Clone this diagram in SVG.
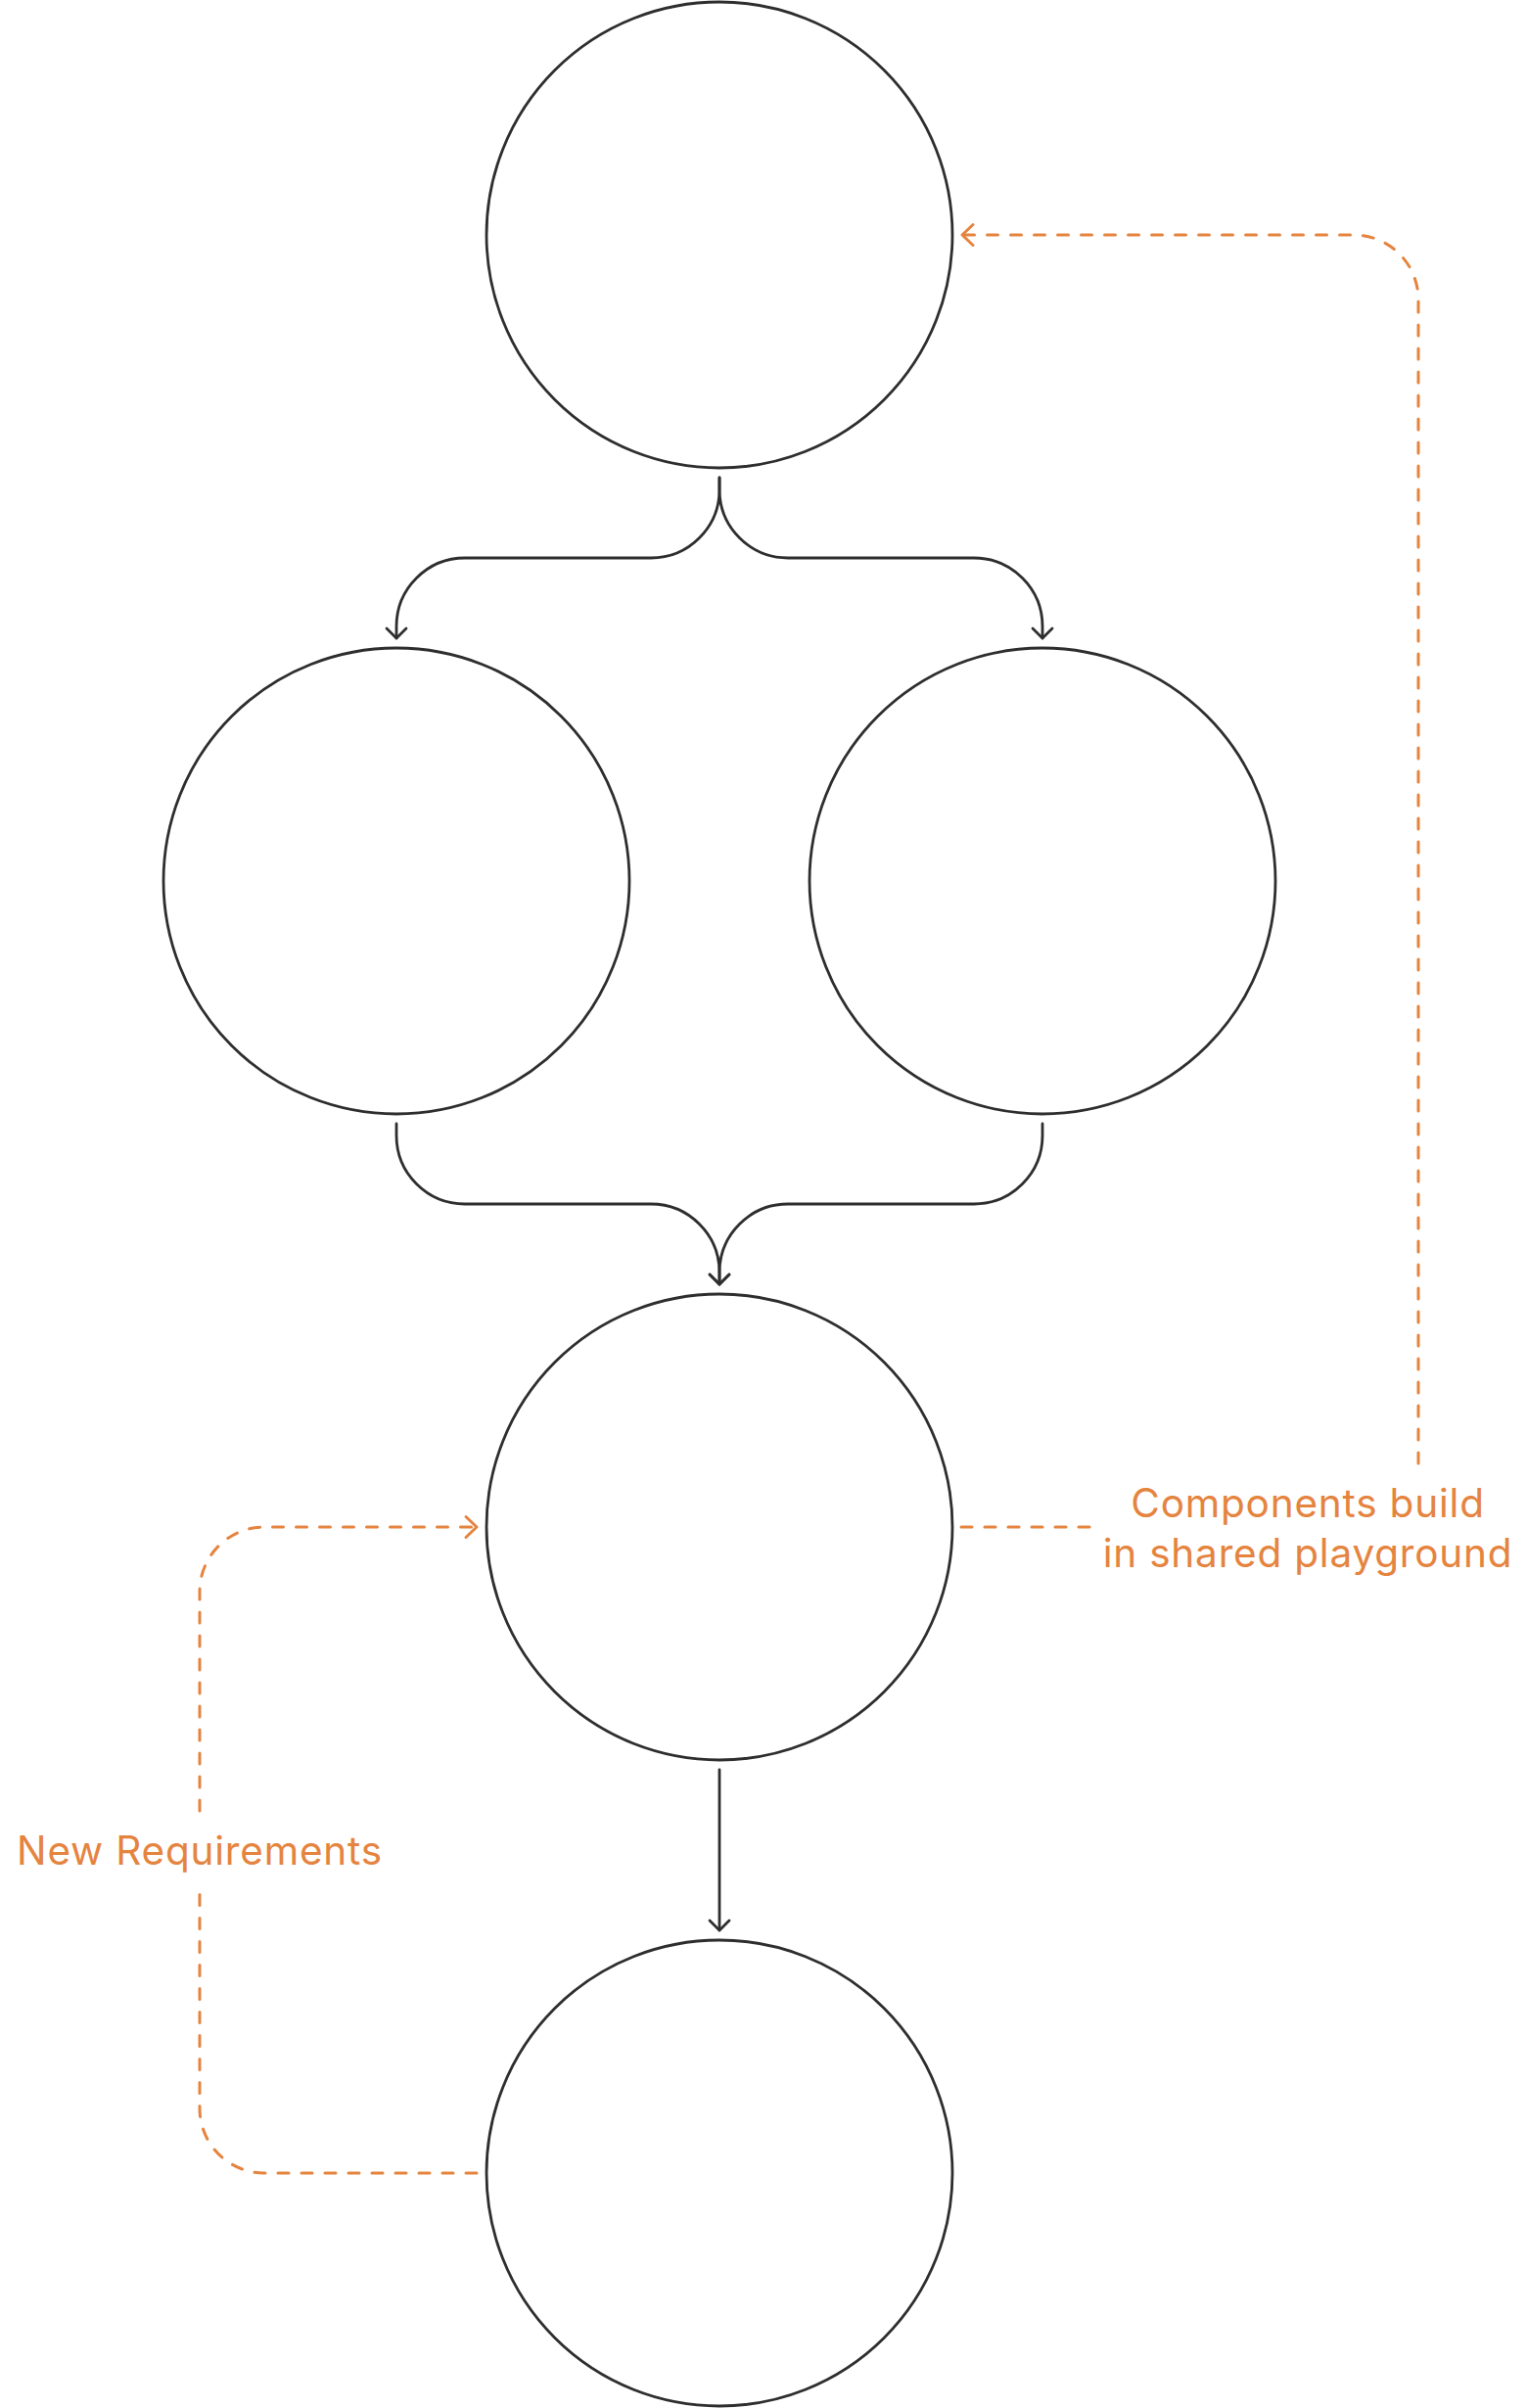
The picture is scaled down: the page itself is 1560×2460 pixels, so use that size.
<svg xmlns="http://www.w3.org/2000/svg" width="1560" height="2460" viewBox="0 0 1560 2460">
  <style>
    .node { fill: #ffffff; stroke: #2e2e2e; stroke-width: 2.8; }
    .flow { fill: none; stroke: #2e2e2e; stroke-width: 2.8; stroke-linecap: round; stroke-linejoin: round; }
    .loop { fill: none; stroke: #E5843F; stroke-width: 3; stroke-linecap: round; stroke-dasharray: 11 13; }
    .lbl { font-family: Inter, "Liberation Sans", sans-serif; font-size: 40.5px; letter-spacing: 0.8px; fill: #E5843F; text-anchor: middle; }
  </style>
  <defs>
    <marker id="ah" viewBox="-12 -12 24 24" markerWidth="24" markerHeight="24" markerUnits="userSpaceOnUse" refX="0" refY="0" orient="auto">
      <path d="M-10,-10 L0,0 L-10,10" fill="none" stroke="#2e2e2e" stroke-width="2.8" stroke-linecap="round" stroke-linejoin="round"/>
    </marker>
    <marker id="ao" viewBox="-14 -14 28 28" markerWidth="28" markerHeight="28" markerUnits="userSpaceOnUse" refX="0" refY="0" orient="auto">
      <path d="M-11,-10.5 L0,0 L-11,10.5" fill="none" stroke="#E5843F" stroke-width="3" stroke-linecap="round" stroke-linejoin="round" stroke-dasharray="none"/>
    </marker>
  </defs>
  <rect width="1560" height="2460" fill="#ffffff"/>
  <g id="node-top"><circle class="node" cx="735" cy="240" r="238"/></g>
  <g id="node-left"><circle class="node" cx="405" cy="900" r="238"/></g>
  <g id="node-right"><circle class="node" cx="1065" cy="900" r="238"/></g>
  <g id="node-middle"><circle class="node" cx="735" cy="1560" r="238"/></g>
  <g id="node-bottom"><circle class="node" cx="735" cy="2220" r="238"/></g>
  <g id="connectors">
    <path class="flow" d="M735 488 V500 A70 70 0 0 1 665 570 H475 A70 70 0 0 0 405 640 V652" marker-end="url(#ah)"/>
    <path class="flow" d="M735 488 V500 A70 70 0 0 0 805 570 H995 A70 70 0 0 1 1065 640 V652" marker-end="url(#ah)"/>
    <path class="flow" d="M405 1148 V1160 A70 70 0 0 0 475 1230 H665 A70 70 0 0 1 735 1300 V1312" marker-end="url(#ah)"/>
    <path class="flow" d="M1065 1148 V1160 A70 70 0 0 1 995 1230 H805 A70 70 0 0 0 735 1300 V1312" marker-end="url(#ah)"/>
    <path class="flow" d="M735 1808 V1972" marker-end="url(#ah)"/>
    <path class="loop" d="M982 1560 H1115"/>
    <path class="loop" d="M1449 1495 V306 A66 66 0 0 0 1383 240 H983" marker-end="url(#ao)"/>
    <path class="loop" d="M487 2220 H270 A66 66 0 0 1 204 2154 V1928"/>
    <path class="loop" d="M204 1850 V1626 A66 66 0 0 1 270 1560 H487" marker-end="url(#ao)"/>
  </g>
  <g id="labels">
    <text class="lbl" x="1336" y="1550">Components build</text>
    <text class="lbl" x="1336" y="1601">in shared playground</text>
    <text class="lbl" x="204" y="1905">New Requirements</text>
  </g>
</svg>
